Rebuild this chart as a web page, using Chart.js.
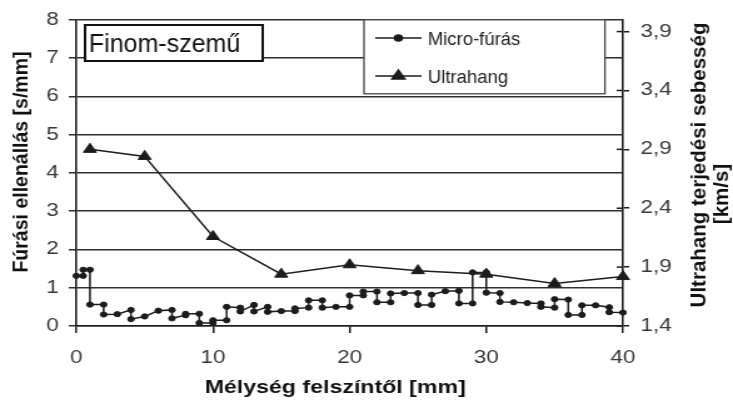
<!DOCTYPE html>
<html lang="hu">
<head>
<meta charset="utf-8">
<title>Finom-szemű – mélységprofil</title>
<script src="https://cdn.jsdelivr.net/npm/chart.js@4/dist/chart.umd.min.js"></script>
<style>
  html, body { margin: 0; padding: 0; background: #fff; overflow: hidden; }
  #wrap { width: 586px; height: 403px; transform-origin: 0 0; }
</style>
</head>
<body>
<div id="wrap"><canvas id="depthChart" width="586" height="403"></canvas></div>
<script>
// Depth profile: micro-drilling resistance vs ultrasound velocity

// the source picture is stretched sideways, so draw narrow and widen with css
const SCALE_X = 733 / 586;

// micro-fúrás (s/mm) - two points at one depth make the vertical steps
const microDepth = [0, 0.5, 0.5, 1, 1, 2, 2, 3, 4, 4, 5, 6, 7, 7, 8, 8, 9, 9, 10, 10,
  11, 11, 12, 12, 13, 13, 14, 14, 15, 16, 16, 17, 17, 18, 18, 19, 20, 20, 21, 21,
  22, 22, 23, 23, 24, 25, 25, 26, 26, 27, 28, 28, 29, 29, 30, 30, 31, 31, 32, 33,
  34, 34, 35, 35, 36, 36, 37, 37, 38, 39, 39, 40];
const microValue = [1.31, 1.31, 1.47, 1.47, 0.56, 0.56, 0.30, 0.31, 0.42, 0.18, 0.25, 0.40, 0.42, 0.20, 0.28, 0.32, 0.32, 0.08, 0.08, 0.15,
  0.15, 0.50, 0.48, 0.38, 0.55, 0.38, 0.50, 0.37, 0.39, 0.39, 0.46, 0.48, 0.67, 0.67, 0.48, 0.50, 0.50, 0.80, 0.80, 0.90,
  0.90, 0.62, 0.62, 0.85, 0.86, 0.86, 0.55, 0.55, 0.82, 0.91, 0.92, 0.59, 0.59, 1.40, 1.40, 0.87, 0.86, 0.63, 0.62, 0.60,
  0.59, 0.50, 0.48, 0.70, 0.69, 0.29, 0.29, 0.54, 0.54, 0.49, 0.36, 0.35];

// ultrahang (km/s)
const ultraDepth = [1, 5, 10, 15, 20, 25, 30, 35, 40];
const ultraSpeed = [2.90, 2.84, 2.16, 1.84, 1.92, 1.87, 1.84, 1.76, 1.82];

// tick labels
const xTicks = [0, 10, 20, 30, 40];
const leftTicks = [0, 1, 2, 3, 4, 5, 6, 7, 8];
const rightTicks = [1.4, 1.9, 2.4, 2.9, 3.4, 3.9];

const LINE = "#1c1c1c";
const GRID = "#303030";
const TEXT = "#383838";
const FONT = "'Liberation Sans', Arial, Helvetica, sans-serif";

document.getElementById("wrap").style.transform = `scaleX(${SCALE_X})`;
Chart.defaults.font.family = FONT;

// text drawn without the sideways stretch (legend, label box and side titles are not stretched in the source)
function drawFlatText(ctx, text, x, y, font, angle = 0) {
  ctx.save();
  ctx.translate(x, y);
  ctx.scale(1 / SCALE_X, 1);
  if (angle) ctx.rotate(angle);
  ctx.font = font;
  ctx.fillText(text, 0, 0);
  ctx.restore();
}

const overlayPlugin = {
  id: "overlay",
  afterDraw(chart) {
    const ctx = chart.ctx;
    const area = chart.chartArea;
    const yR = chart.scales.y1;

    ctx.save();

    // inner half of the right axis tick marks
    ctx.strokeStyle = LINE;
    ctx.lineWidth = 1.5;
    yR.ticks.forEach(t => {
      const py = yR.getPixelForValue(t.value);
      ctx.beginPath();
      ctx.moveTo(area.right - 5, py);
      ctx.lineTo(area.right, py);
      ctx.stroke();
    });

    // "Finom-szemű" label box
    ctx.fillStyle = "#fff";
    ctx.fillRect(68, 25, 142, 36);
    ctx.strokeStyle = "#111";
    ctx.lineWidth = 2;
    ctx.strokeRect(68, 25, 142, 36);
    ctx.fillStyle = "#111";
    ctx.textAlign = "left";
    ctx.textBaseline = "alphabetic";
    drawFlatText(ctx, "Finom-szemű", 71, 51.5, `25px ${FONT}`);

    // legend box
    const lx = 291, ly = area.top, lw = 192.6, lh = 74;
    ctx.fillStyle = "#fff";
    ctx.fillRect(lx, ly, lw, lh);
    ctx.strokeStyle = "#444";
    ctx.lineWidth = 1.3;
    ctx.strokeRect(lx, ly, lw, lh);

    const rows = [
      { label: chart.data.datasets[0].label, y: 38, style: "circle", r: 3 },
      { label: chart.data.datasets[1].label, y: 76, style: "triangle", r: 6 }
    ];
    rows.forEach(row => {
      ctx.strokeStyle = LINE;
      ctx.lineWidth = 1.5;
      ctx.beginPath();
      ctx.moveTo(300, row.y);
      ctx.lineTo(337, row.y);
      ctx.stroke();
      ctx.fillStyle = LINE;
      Chart.helpers.drawPoint(ctx, { pointStyle: row.style, radius: row.r, borderWidth: 1 }, 318.5, row.y);
      ctx.fillStyle = "#222";
      drawFlatText(ctx, row.label, 342, row.y + 6.5, `18.5px ${FONT}`);
    });

    // axis titles; the side ones read bottom to top
    ctx.fillStyle = "#111";
    ctx.textAlign = "center";
    ctx.textBaseline = "middle";
    ctx.font = `bold 18.5px ${FONT}`;
    ctx.fillText("Mélység felszíntől [mm]", 268, 388);
    drawFlatText(ctx, "Fúrási ellenállás [s/mm]", 17.6, 162, `bold 19.5px ${FONT}`, -Math.PI / 2);
    drawFlatText(ctx, "Ultrahang terjedési sebesség", 559.5, 165, `bold 20.5px ${FONT}`, -Math.PI / 2);
    drawFlatText(ctx, "[km/s]", 577.5, 194, `bold 20.5px ${FONT}`, -Math.PI / 2);

    ctx.restore();
  }
};

const ctx = document.getElementById("depthChart").getContext("2d");

new Chart(ctx, {
  type: "scatter",
  data: {
    datasets: [
      {
        label: "Micro-fúrás",
        data: microDepth.map((d, i) => ({ x: d, y: microValue[i] })),
        yAxisID: "y",
        showLine: true,
        borderColor: LINE,
        backgroundColor: LINE,
        borderWidth: 1.5,
        pointRadius: 2.6,
        pointBorderWidth: 1,
        clip: false
      },
      {
        label: "Ultrahang",
        data: ultraDepth.map((d, i) => ({ x: d, y: ultraSpeed[i] })),
        yAxisID: "y1",
        showLine: true,
        borderColor: LINE,
        backgroundColor: LINE,
        borderWidth: 1.5,
        pointStyle: "triangle",
        pointRadius: 6,
        pointBorderWidth: 1,
        clip: false
      }
    ]
  },
  options: {
    responsive: false,
    animation: false,
    events: [],
    layout: { padding: { top: 17, left: 0, right: 0, bottom: 0 } },
    plugins: {
      legend: { display: false },
      tooltip: { enabled: false }
    },
    scales: {
      x: {
        type: "linear",
        position: "bottom",
        min: 0,
        max: 40,
        afterBuildTicks: s => { s.ticks = xTicks.map(v => ({ value: v })); },
        afterFit: s => { s.height = 77; },
        grid: { drawOnChartArea: false, color: LINE, lineWidth: 1.5, tickLength: 7 },
        border: { color: LINE, width: 1.5 },
        ticks: { color: TEXT, font: { size: 18 }, padding: 14, maxRotation: 0, autoSkip: false }
      },
      y: {
        type: "linear",
        position: "left",
        min: 0,
        max: 8,
        afterBuildTicks: s => { s.ticks = leftTicks.map(v => ({ value: v })); },
        afterFit: s => { s.width = 61; },
        grid: { color: GRID, lineWidth: 1.5, tickLength: 6 },
        border: { color: LINE, width: 1.6 },
        ticks: { color: TEXT, font: { size: 18 }, padding: 8 }
      },
      y1: {
        type: "linear",
        position: "right",
        min: 1.4,
        max: 4.0,
        afterBuildTicks: s => { s.ticks = rightTicks.map(v => ({ value: v })); },
        afterFit: s => { s.width = 88; },
        grid: { drawOnChartArea: false, color: LINE, lineWidth: 1.5, tickLength: 5 },
        border: { color: LINE, width: 1.6 },
        ticks: {
          color: TEXT,
          font: { size: 18 },
          padding: 9,
          callback: v => v.toFixed(1).replace(".", ",")
        }
      }
    }
  },
  plugins: [overlayPlugin]
});
</script>
</body>
</html>
